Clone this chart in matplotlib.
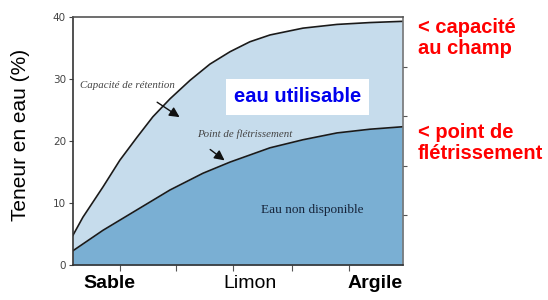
import matplotlib
matplotlib.use("Agg")
import matplotlib.pyplot as plt

# Data (x on a 0-100 texture scale: Sable -> Argile), y = water content (%)
cap_x = [0, 3.0, 9.1, 14.2, 19.4, 24.2, 29.4, 35.5, 41.5, 47.6, 53.6, 59.7, 69.7, 80.0, 90.0, 100]
cap_y = [4.8, 7.7, 12.6, 16.9, 20.6, 23.9, 26.8, 29.8, 32.4, 34.4, 36.0, 37.1, 38.2, 38.8, 39.1, 39.3]
fle_x = [0, 9.1, 19.4, 29.4, 39.4, 47.6, 59.7, 69.7, 80.0, 90.0, 100]
fle_y = [2.3, 5.6, 8.9, 12.1, 14.8, 16.6, 18.9, 20.2, 21.3, 21.9, 22.3]
y_ticks = [0, 10, 20, 30, 40]
right_ticks = [8, 16, 24, 32]
x_ticks = [14.2, 31.2, 48.5, 66.4, 83.6]
x_labels = ["Sable", "Limon", "Argile"]

fig = plt.figure(figsize=(5.48, 3.0), dpi=100)
ax = fig.add_axes([0.1332, 0.1167, 0.6022, 0.8267])
ax.set_xlim(0, 100)
ax.set_ylim(0, 40)

light = "#c6dcec"
dark = "#7aafd3"
ax.fill_between(cap_x, 0, cap_y, color=light, lw=0)
ax.fill_between(fle_x, 0, fle_y, color=dark, lw=0)
ax.plot(cap_x, cap_y, color="#1a1a1a", lw=1.2)
ax.plot(fle_x, fle_y, color="#1a1a1a", lw=1.2)

ax.set_yticks(y_ticks)
ax.set_yticklabels([str(v) for v in y_ticks], fontsize=7.5, color="#444444")
ax.set_xticks(x_ticks)
ax.set_xticklabels([])
ax.tick_params(axis="y", direction="out", length=3, width=0.8, color="#444444", pad=2)
ax.tick_params(axis="x", direction="out", length=4, width=0.8, color="#555555")

ax.spines["left"].set_color("#333333")
ax.spines["bottom"].set_color("#333333")
ax.spines["top"].set_color("#555555")
ax.spines["right"].set_color("#777777")
for s in ax.spines.values():
    s.set_linewidth(1.2)

ax2 = ax.twinx()
ax2.set_ylim(0, 40)
ax2.set_yticks(right_ticks)
ax2.set_yticklabels([])
ax2.tick_params(axis="y", direction="out", length=3, width=0.8, color="#555555")
for s in ax2.spines.values():
    s.set_visible(False)

fig.text(21 / 548, 1 - 135 / 300, "Teneur en eau (%)", rotation=90, fontsize=15,
         family="Liberation Sans", ha="center", va="center", color="black")

# x category labels
for xv, lab, wt in [(11.0, x_labels[0], "bold"), (53.6, x_labels[1], "normal"), (91.6, x_labels[2], "bold")]:
    ax.text(xv, -0.075, lab, transform=ax.get_xaxis_transform(), ha="center", va="center",
            fontsize=14, fontweight=wt, family="Liberation Sans", color="black")

# annotations inside plot
ax.text(2.2, 29.0, "Capacité de rétention", fontsize=7.8, style="italic",
        family="Liberation Serif", color="#444444", va="center", ha="left")
ax.annotate("", xy=(33.0, 23.6), xytext=(24.8, 26.5),
            arrowprops=dict(arrowstyle="-|>,head_length=0.6,head_width=0.3", color="#111111", lw=1.0))
ax.text(37.5, 21.1, "Point de flétrissement", fontsize=7.8, style="italic",
        family="Liberation Serif", color="#444444", va="center", ha="left")
ax.annotate("", xy=(46.6, 16.6), xytext=(40.9, 18.9),
            arrowprops=dict(arrowstyle="-|>,head_length=0.6,head_width=0.3", color="#111111", lw=1.0))
ax.text(57.0, 8.9, "Eau non disponible", fontsize=9.5, family="Liberation Serif",
        color="#16243a", va="center", ha="left")
ax.text(68.0, 27.1, "eau utilisable", fontsize=14.5, fontweight="bold", family="Liberation Sans",
        color="#0000ee", ha="center", va="center",
        bbox=dict(facecolor="white", edgecolor="none", boxstyle="square,pad=0.4"))

# red side labels
fig.text(418 / 548, 1 - 18 / 300, "< capacité\nau champ", fontsize=14.5, fontweight="bold",
         family="Liberation Sans", color="#ff0000", ha="left", va="top", linespacing=1.15)
fig.text(418 / 548, 1 - 123 / 300, "< point de\nflétrissement", fontsize=14.5, fontweight="bold",
         family="Liberation Sans", color="#ff0000", ha="left", va="top", linespacing=1.15)

fig.savefig("out.png", dpi=100)
